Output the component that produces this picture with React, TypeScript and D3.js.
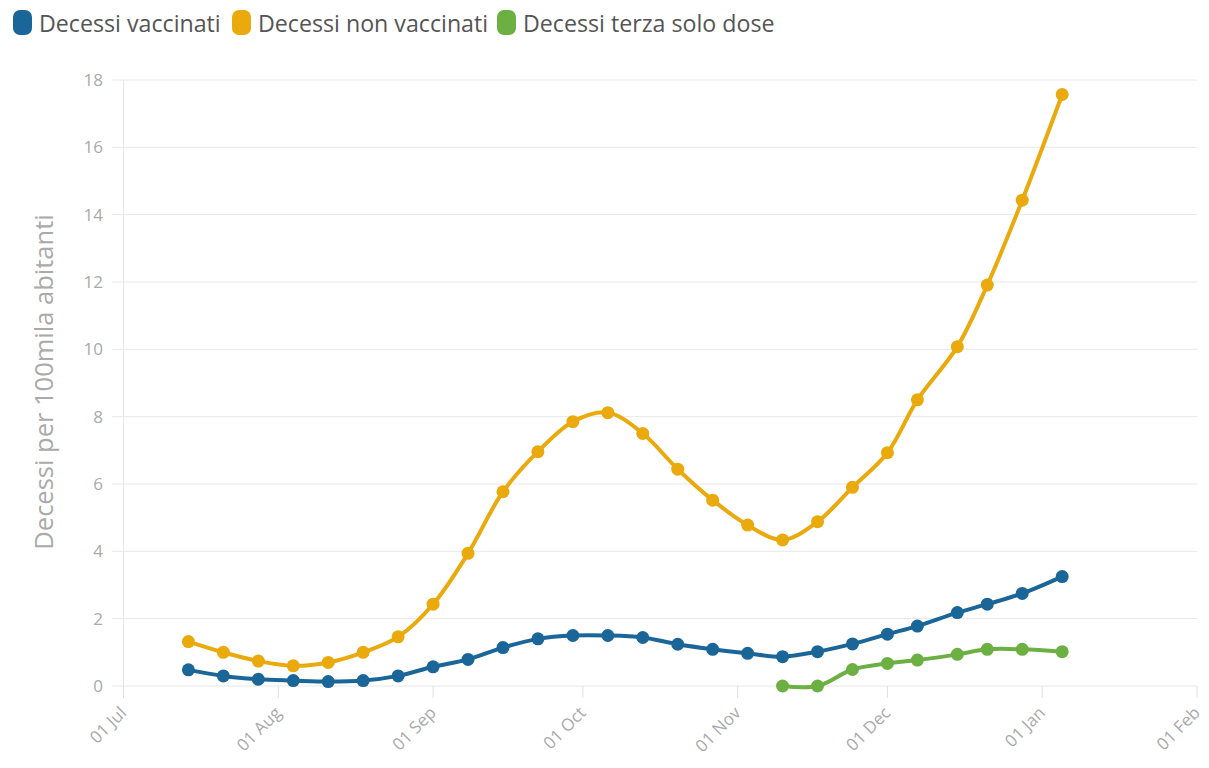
import React from "react";
import * as d3 from "d3";

const dates = [
  "2021-07-14", "2021-07-21", "2021-07-28", "2021-08-04", "2021-08-11", "2021-08-18", "2021-08-25",
  "2021-09-01", "2021-09-08", "2021-09-15", "2021-09-22", "2021-09-29", "2021-10-06", "2021-10-13",
  "2021-10-20", "2021-10-27", "2021-11-03", "2021-11-10", "2021-11-17", "2021-11-24", "2021-12-01",
  "2021-12-07", "2021-12-15", "2021-12-21", "2021-12-28", "2022-01-05",
];

const vaccinati = [
  0.48, 0.3, 0.2, 0.16, 0.13, 0.16, 0.3, 0.57, 0.79, 1.14, 1.4, 1.5, 1.5, 1.44, 1.24, 1.09, 0.97,
  0.87, 1.02, 1.25, 1.54, 1.78, 2.18, 2.43, 2.75, 3.25,
];

const nonVaccinati = [
  1.32, 1.0, 0.74, 0.6, 0.7, 1.0, 1.46, 2.43, 3.94, 5.77, 6.96, 7.85, 8.12, 7.5, 6.44, 5.52, 4.78,
  4.34, 4.88, 5.9, 6.93, 8.5, 10.08, 11.91, 14.43, 17.57,
];

const terzaDates = [
  "2021-11-10", "2021-11-17", "2021-11-24", "2021-12-01", "2021-12-07", "2021-12-15", "2021-12-21",
  "2021-12-28", "2022-01-05",
];
const terzaDose = [0, 0, 0.49, 0.67, 0.77, 0.94, 1.09, 1.09, 1.02];

const yTicks = [0, 2, 4, 6, 8, 10, 12, 14, 16, 18];
const xTickDates = [
  "2021-07-01", "2021-08-01", "2021-09-01", "2021-10-01", "2021-11-01", "2021-12-01", "2022-01-01", "2022-02-01",
];
const xTickLabels = ["01 Jul", "01 Aug", "01 Sep", "01 Oct", "01 Nov", "01 Dec", "01 Jan", "01 Feb"];

const seriesNames = ["Decessi vaccinati", "Decessi non vaccinati", "Decessi terza solo dose"];
const colors = ["#1b6698", "#eaa90c", "#6cb043"];

const parse = d3.timeParse("%Y-%m-%d");

export default function App() {
  const x = d3
    .scaleTime()
    .domain([parse("2021-07-01")!, parse("2022-02-01")!])
    .range([123.5, 1197]);
  const y = d3.scaleLinear().domain([0, 18]).range([686, 80]);

  const series = [
    { name: seriesNames[0], color: colors[0], pts: dates.map((d, i) => [parse(d)!, vaccinati[i]] as [Date, number]) },
    { name: seriesNames[1], color: colors[1], pts: dates.map((d, i) => [parse(d)!, nonVaccinati[i]] as [Date, number]) },
    { name: seriesNames[2], color: colors[2], pts: terzaDates.map((d, i) => [parse(d)!, terzaDose[i]] as [Date, number]) },
  ];

  const line = d3
    .line<[Date, number]>()
    .x((d) => x(d[0]))
    .y((d) => y(d[1]))
    .curve(d3.curveCatmullRom.alpha(0.5));

  const font = "'Open Sans', Lato, sans-serif";
  const legendX = [13, 232, 497];

  return (
    <svg
      width={1209}
      height={768}
      style={{ position: "absolute", left: 0, top: 0, background: "#fff" }}
      fontFamily={font}
    >
      {/* legend */}
      {seriesNames.map((n, i) => (
        <g key={n} transform={`translate(${legendX[i]},0)`}>
          <rect x={0} y={10} width={19} height={25} rx={7} fill={colors[i]} />
          <text x={26} y={32} fontSize={23.2} fill="#555">
            {n}
          </text>
        </g>
      ))}

      {/* gridlines */}
      {yTicks.map((t) => (
        <g key={t}>
          <line x1={112} x2={1197} y1={y(t)} y2={y(t)} stroke="#e8e8e8" strokeWidth={1} />
          <text x={103} y={y(t) + 6} textAnchor="end" fontSize={17} fill="#aaa">
            {t}
          </text>
        </g>
      ))}
      <line x1={123.5} x2={123.5} y1={80} y2={686} stroke="#e8e8e8" />

      {/* x ticks */}
      {xTickDates.map((d, i) => {
        const px = x(parse(d)!);
        return (
          <g key={d}>
            <line x1={px} x2={px} y1={686} y2={698} stroke="#e0e0e0" />
            <text
              transform={`translate(${px + 4},${714}) rotate(-45)`}
              textAnchor="end"
              fontSize={17}
              fill="#aaa"
            >
              {xTickLabels[i]}
            </text>
          </g>
        );
      })}

      {/* y axis title */}
      <text
        transform={`translate(53,382) rotate(-90)`}
        textAnchor="middle"
        fontSize={25.5}
        fill="#aaa"
      >
        Decessi per 100mila abitanti
      </text>

      {/* series */}
      {series.map((s) => (
        <g key={s.name}>
          <path d={line(s.pts) ?? ""} fill="none" stroke={s.color} strokeWidth={4} />
          {s.pts.map((p, j) => (
            <circle key={j} cx={x(p[0])} cy={y(p[1])} r={6.5} fill={s.color} />
          ))}
        </g>
      ))}
    </svg>
  );
}
